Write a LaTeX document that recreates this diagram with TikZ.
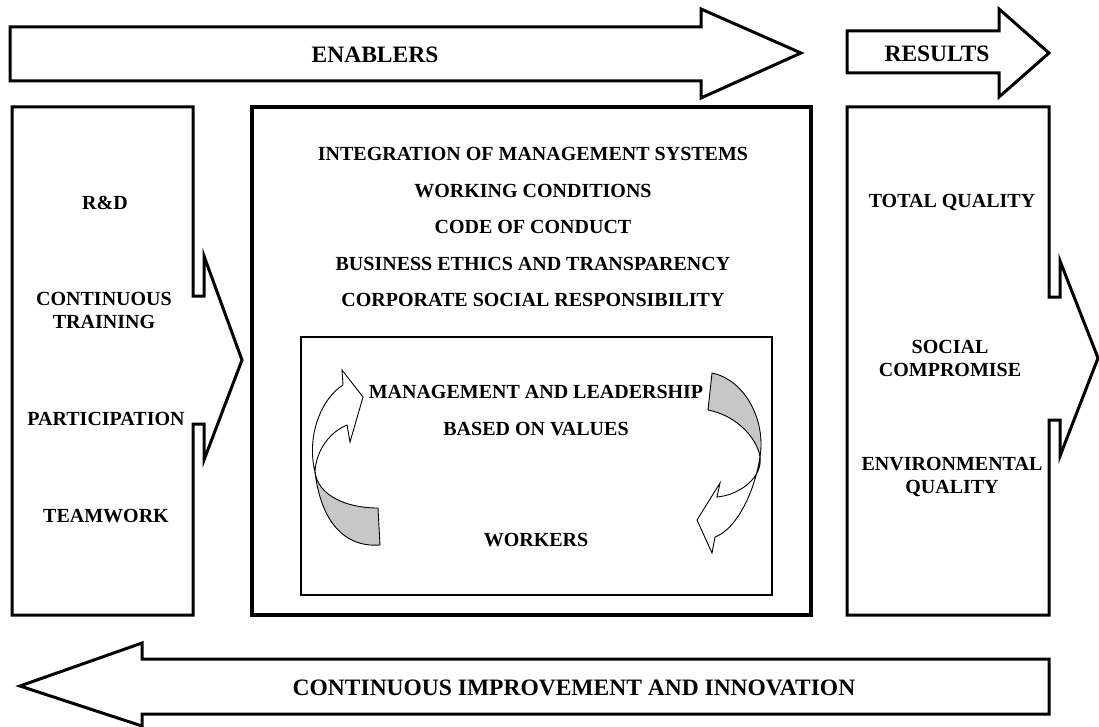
\documentclass[tikz,border=0pt]{standalone}
\usepackage{fontspec}
\setmainfont{Liberation Serif}
\begin{document}
\begin{tikzpicture}[
  x=1pt, y=-1pt,
  box/.style={draw, line width=3pt},
  lbl/.style={font=\bfseries\fontsize{20}{23}\selectfont, align=center},
  big/.style={font=\bfseries\fontsize{23.5}{28}\selectfont},
  twist/.style={draw, line width=0.9pt, fill=white},
  shade/.style={draw, line width=0.9pt, fill=black!22}
]
\useasboundingbox (0,0) rectangle (1099,727);

% big arrows
\draw[box] (10,27) -- (701,27) -- (701,9) -- (801,53) -- (701,98) -- (701,81) -- (10,81) -- cycle;
\draw[box] (847,31) -- (999,31) -- (999,9) -- (1049,53) -- (999,97) -- (999,73) -- (847,73) -- cycle;
\draw[box] (1049,659) -- (142,659) -- (142,643) -- (20,686) -- (142,726) -- (142,714) -- (1049,714) -- cycle;
\node[big] (enablers) at (375,55) {ENABLERS};
\node[big] (results) at (937,54) {RESULTS};
\node[big] (improve) at (574,688) {CONTINUOUS IMPROVEMENT AND INNOVATION};

% side boxes with their arrows
\draw[box] (12,107) -- (193,107) -- (193,296) -- (204,296) -- (204,256) -- (242,360)
  -- (204,460) -- (204,424) -- (193,424) -- (193,615) -- (12,615) -- cycle;
\draw[box] (847,107) -- (1049,107) -- (1049,297) -- (1060,297) -- (1060,261) -- (1098,358)
  -- (1060,456) -- (1060,420) -- (1049,420) -- (1049,615) -- (847,615) -- cycle;

% middle
\draw[box, line width=4.5pt] (252,107) rectangle (811,615);
\draw[line width=2.5pt] (301,337) rectangle (772,595);

% twisted arrows
\draw[shade] (315,472) .. controls (320,515) and (340,548) .. (380,545) -- (378,508)
  .. controls (345,508) and (318,495) .. (315,472);
\draw[twist] (343,385) -- (342,370) -- (363,397) -- (350,442) -- (347,425)
  .. controls (330,432) and (316,450) .. (315,472)
  .. controls (306,435) and (322,398) .. (343,385);
\draw[shade] (712,373) .. controls (745,380) and (766,420) .. (760,457)
  .. controls (757,437) and (735,415) .. (708,410) -- cycle;
\draw[twist] (760,457) .. controls (763,477) and (740,495) .. (717,497) -- (720,483)
  -- (697,520) -- (712,553) -- (715,537) .. controls (735,530) and (754,495) .. (760,457);

% labels
\node[lbl] (rd) at (105,203) {R\&D};
\node[lbl] (train) at (104,310) {CONTINUOUS\\TRAINING};
\node[lbl] (part) at (106,419) {PARTICIPATION};
\node[lbl] (team) at (106,516) {TEAMWORK};

\node[lbl, font=\bfseries\fontsize{20}{36.5}\selectfont] (values) at (533,227)
  {INTEGRATION OF MANAGEMENT SYSTEMS\\WORKING CONDITIONS\\CODE OF CONDUCT\\
   BUSINESS ETHICS AND TRANSPARENCY\\CORPORATE SOCIAL RESPONSIBILITY};
\node[lbl, font=\bfseries\fontsize{20}{37}\selectfont] (lead) at (536,411)
  {MANAGEMENT AND LEADERSHIP\\BASED ON VALUES};
\node[lbl] (workers) at (536,540) {WORKERS};

\node[lbl] (total) at (952,203) {TOTAL QUALITY};
\node[lbl] (social) at (950,358) {SOCIAL\\COMPROMISE};
\node[lbl] (env) at (952,477) {ENVIRONMENTAL\\QUALITY};
\end{tikzpicture}
\end{document}
